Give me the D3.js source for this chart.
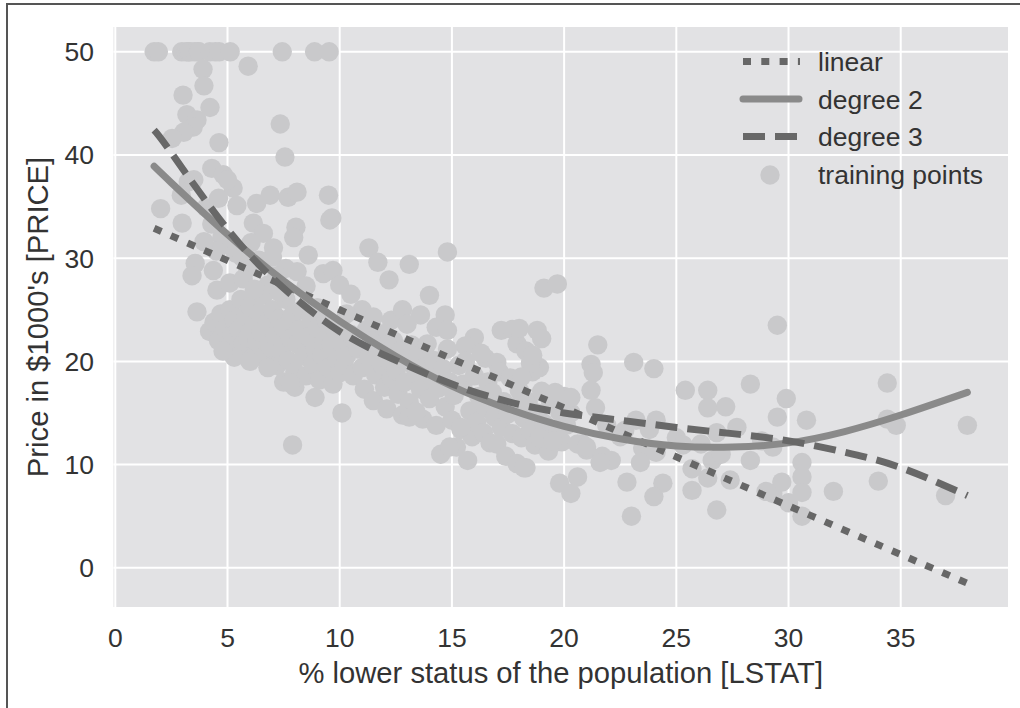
<!DOCTYPE html>
<html>
<head>
<meta charset="utf-8">
<style>
    body { margin: 0; background: #fff; }
    svg { display: block; }
    text { font-family: "Liberation Sans", Arial, sans-serif; fill: #333; }
    .tick-label { font-size: 26.5px; }
    .axis-title { font-size: 29.2px; }
    .legend-label { font-size: 26.5px; }
    .grid line { stroke: #fff; stroke-width: 2; }
    .points { fill: #c9c9cb; }
    .fit { fill: none; }
</style>
</head>
<body>
<svg id="chart"></svg>
<script src="https://d3js.org/d3.v7.min.js"></script>
<script>
    // training points: [LSTAT, PRICE]
    var trainingPoints = [
        [1.73, 50], [1.92, 50], [2.96, 50], [3.16, 50], [3.26, 50], [3.32, 50], [3.53, 50], [3.70, 50],
        [3.73, 50], [4.21, 50], [4.45, 50], [4.63, 50], [5.12, 50], [7.44, 50], [8.88, 50], [9.53, 50],
        [5.92, 48.6], [3.91, 48.3], [3.95, 46.7], [3.02, 45.8], [4.22, 44.6], [3.19, 43.9], [3.64, 43.4],
        [3.47, 42.7], [3.05, 42.2], [2.53, 41.6], [4.62, 41.2], [7.35, 43.0], [7.56, 39.8], [4.30, 38.7],
        [4.81, 38.1],
        [5.25, 36.8], [5.42, 35.1], [3.25, 37.4], [2.94, 36.1], [2.02, 34.8], [3.50, 37.6], [2.98, 33.4],
        [6.30, 35.3], [6.90, 36.1], [7.70, 35.9], [8.10, 36.4], [9.50, 36.1], [9.65, 33.9], [8.05, 33.0],
        [7.95, 32.0], [6.15, 33.4], [6.60, 32.4], [9.56, 33.7], [4.05, 34.9], [4.60, 35.8], [5.00, 37.6],
        [8.60, 30.3], [9.27, 28.5], [9.70, 28.8], [10.0, 27.4], [3.56, 29.5], [3.42, 28.3], [3.64, 24.8],
        [4.37, 28.8], [4.53, 26.9], [5.10, 27.6], [4.30, 33.3], [4.75, 32.0], [5.05, 31.3], [5.35, 30.5],
        [5.65, 30.1], [4.50, 30.7], [3.95, 31.6], [5.90, 29.0], [6.40, 29.8], [7.00, 30.1], [7.60, 29.0],
        [7.20, 28.3], [6.80, 27.4], [5.70, 28.0], [8.10, 28.7], [8.50, 27.3], [6.05, 31.5], [7.05, 31.0],
        [11.3, 31.0], [11.7, 29.6], [12.2, 27.9], [13.1, 29.4], [14.8, 30.6], [14.0, 26.4], [13.6, 24.5],
        [14.7, 24.5], [14.3, 23.3], [14.8, 23.0], [10.5, 26.5], [11.0, 25.0], [11.5, 24.3], [12.3, 24.0],
        [12.8, 25.0], [10.3, 24.6], [11.2, 23.1], [12.0, 22.7], [13.0, 23.6],
        [19.1, 27.1], [19.7, 27.5], [16.0, 22.3], [17.2, 23.0], [17.7, 23.1], [18.8, 23.0], [17.9, 21.7],
        [18.9, 19.4], [16.5, 20.3], [15.6, 21.5], [17.0, 19.9],
        [4.2, 22.9], [4.4, 23.8], [4.6, 22.0], [4.7, 24.6], [4.9, 23.2], [5.0, 21.2], [5.1, 25.0], [5.2, 22.6],
        [5.3, 24.0], [5.4, 20.6], [5.5, 23.1], [5.6, 26.0], [5.7, 21.7], [5.8, 24.4], [5.9, 22.3], [6.0, 25.3],
        [6.1, 20.3], [6.2, 23.6], [6.3, 21.9], [6.4, 24.7], [6.5, 22.8], [6.6, 26.4], [6.7, 20.6], [6.8, 23.9],
        [6.9, 21.4], [7.0, 25.0], [7.1, 22.5], [7.2, 19.6], [7.3, 24.1], [7.4, 21.0], [7.5, 23.3], [7.6, 26.0],
        [7.7, 20.1], [7.8, 22.2], [7.9, 24.5], [8.0, 19.0], [8.1, 21.7], [8.2, 23.1], [8.3, 25.0], [8.4, 20.5],
        [8.5, 18.6], [8.6, 22.4], [8.7, 24.3], [8.8, 19.7], [8.9, 21.2], [9.0, 23.2], [9.1, 18.2], [9.2, 20.6],
        [9.3, 22.0], [9.4, 24.0], [9.5, 19.4], [9.6, 21.6], [9.7, 17.8], [9.8, 23.0], [9.9, 20.1], [10.0, 18.9],
        [10.1, 21.7], [10.2, 19.6], [5.3, 20.4], [6.0, 20.0], [6.8, 19.4], [7.5, 18.0], [8.0, 17.5], [4.8, 21.0],
        [9.0, 25.2], [6.2, 27.0], [7.3, 26.7],
        [8.9, 16.5], [10.1, 15.0], [7.9, 11.9], [7.8, 17.9],
        [10.3, 20.5], [10.5, 22.6], [10.6, 18.6], [10.8, 21.2], [11.0, 19.4], [11.1, 17.3], [11.3, 20.4],
        [11.4, 22.0], [11.5, 16.2], [11.6, 18.7], [11.8, 21.1], [11.9, 19.6], [12.0, 17.5], [12.1, 15.4],
        [12.2, 20.0], [12.3, 18.4], [12.4, 22.0], [12.5, 19.1], [12.6, 16.8], [12.7, 21.0], [12.8, 14.8],
        [12.9, 18.0], [13.0, 19.9], [13.1, 16.0], [13.2, 21.6], [13.3, 15.0], [13.4, 18.8], [13.5, 20.6],
        [13.6, 17.3], [13.7, 14.4], [13.8, 19.5], [13.9, 21.7], [14.0, 16.4], [14.1, 18.5], [14.2, 20.1],
        [14.3, 13.8], [14.4, 17.4], [14.5, 11.0], [14.6, 19.3], [14.7, 15.6], [14.8, 21.2], [14.9, 18.0],
        [15.0, 14.3], [15.1, 16.7], [15.2, 11.7], [15.3, 19.6], [15.4, 13.4], [15.5, 17.8], [15.6, 20.0],
        [15.7, 10.4], [15.8, 15.2], [15.9, 12.7], [16.0, 18.6], [16.1, 14.1], [16.2, 16.6], [16.3, 20.8],
        [16.4, 13.1], [16.5, 15.5], [16.6, 18.0], [16.7, 12.1], [16.8, 17.0], [16.9, 14.6], [17.0, 12.0],
        [17.1, 19.0], [17.2, 13.6], [17.3, 16.1], [17.4, 10.8], [17.5, 14.9], [17.6, 18.4], [17.7, 13.0],
        [17.8, 15.6], [17.9, 10.1], [18.0, 17.2], [18.1, 12.6], [18.2, 14.5], [18.3, 9.7], [18.4, 16.1],
        [18.5, 13.3], [18.6, 19.0], [18.7, 11.9], [18.8, 15.0], [18.9, 12.8], [19.0, 17.1], [19.1, 14.0],
        [19.3, 11.3], [19.4, 16.0], [19.6, 13.2], [19.8, 15.1], [19.9, 12.2], [20.0, 16.6], [20.1, 13.8],
        [18.3, 21.0], [18.5, 19.8], [18.1, 18.5], [18.6, 20.6], [13.1, 14.6], [13.4, 15.1], [14.9, 11.7],
        [15.4, 13.6],
        [21.5, 21.6], [21.2, 19.7], [21.3, 18.9], [21.2, 17.2], [21.4, 15.5], [23.1, 19.9], [24.0, 19.3],
        [25.4, 17.2], [26.4, 17.2], [26.4, 15.5], [27.2, 15.6], [28.3, 17.8], [27.7, 13.6], [26.8, 13.1],
        [28.3, 10.4], [26.6, 10.4], [26.4, 8.7], [27.4, 8.5], [25.7, 7.5], [26.8, 5.6], [29.3, 7.2],
        [25.7, 9.6], [24.1, 11.2], [24.4, 8.2], [24.0, 6.9], [23.0, 5.0], [22.8, 8.3], [20.6, 8.8],
        [19.8, 8.2], [20.3, 7.2], [18.2, 9.7], [23.5, 11.6], [24.0, 11.3], [21.0, 11.4], [21.7, 10.8],
        [22.1, 10.4], [23.2, 14.3], [24.1, 14.3], [25.0, 12.6], [20.3, 15.0], [19.6, 17.0], [20.3, 16.5],
        [18.0, 23.2], [19.0, 22.2], [19.7, 13.0], [20.8, 12.0], [22.5, 12.7], [23.8, 13.4], [25.3, 11.9],
        [21.9, 13.8], [22.7, 13.3], [23.4, 10.2], [26.1, 12.0], [27.0, 11.0], [28.8, 12.3], [18.9, 12.6],
        [19.5, 12.3], [20.6, 12.0], [21.0, 11.7], [21.6, 10.2],
        [29.5, 23.5], [34.4, 17.9], [34.4, 14.4], [34.8, 13.8], [37.97, 13.8], [29.9, 16.4], [29.5, 14.6],
        [30.8, 14.3], [29.3, 11.7], [30.6, 10.2], [30.6, 8.8], [30.6, 7.3], [29.7, 8.3], [29.0, 7.4],
        [30.0, 6.3], [30.6, 5.0], [32.0, 7.4], [34.0, 8.4], [37.0, 7.0]
    ];

    // fitted curves, values
    var linearX = [1.73, 10, 20, 30, 37.97];
    var linearY = [32.9, 25.0, 15.5, 6.0, -1.5];

    var curveX = [1.73, 2.5, 5, 7.5, 10, 12.5, 15, 17.5, 20, 22.5, 25, 27.5, 30, 32.5, 35, 37.97];
    var quadY = [38.9, 37.3, 32.3, 27.8, 23.9, 20.5, 17.6, 15.4, 13.7, 12.5, 11.8, 11.7, 12.1, 13.2, 14.8, 17.0];
    var cubicY = [42.4, 40.2, 32.8, 27.1, 22.9, 20.1, 17.8, 16.1, 15.0, 14.3, 13.6, 13.0, 12.3, 11.2, 9.7, 7.0];

    var xTicks = [0, 5, 10, 15, 20, 25, 30, 35];
    var yTicks = [0, 10, 20, 30, 40, 50];

    var legendLabels = ['linear', 'degree 2', 'degree 3', 'training points'];

    var width = 1020;
    var height = 708;
    var plot = { left: 113.5, right: 1008, top: 27, bottom: 607 };

    var svg = d3.select('#chart')
        .attr('width', width)
        .attr('height', height);

    // figure border (only top and left edges show in the crop)
    svg.append('line').attr('x1', 6).attr('y1', 4).attr('x2', width).attr('y2', 4)
        .attr('stroke', '#555').attr('stroke-width', 2);
    svg.append('line').attr('x1', 7).attr('y1', 4).attr('x2', 7).attr('y2', height)
        .attr('stroke', '#555').attr('stroke-width', 2);

    var x = d3.scaleLinear().domain([-0.08, 39.78]).range([plot.left, plot.right]);
    var y = d3.scaleLinear().domain([-3.8, 52.4]).range([plot.bottom, plot.top]);

    svg.append('rect')
        .attr('x', plot.left)
        .attr('y', plot.top)
        .attr('width', plot.right - plot.left)
        .attr('height', plot.bottom - plot.top)
        .attr('fill', '#e2e2e4');

    var grid = svg.append('g').attr('class', 'grid');
    grid.selectAll('.vx').data(xTicks).join('line')
        .attr('x1', function (d) { return x(d); })
        .attr('x2', function (d) { return x(d); })
        .attr('y1', plot.top)
        .attr('y2', plot.bottom);
    grid.selectAll('.hy').data(yTicks).join('line')
        .attr('class', 'hy')
        .attr('x1', plot.left)
        .attr('x2', plot.right)
        .attr('y1', function (d) { return y(d); })
        .attr('y2', function (d) { return y(d); });

    // tick labels
    svg.append('g').selectAll('text').data(xTicks).join('text')
        .attr('class', 'tick-label')
        .attr('x', function (d) { return x(d); })
        .attr('y', 647)
        .attr('text-anchor', 'middle')
        .text(function (d) { return d; });
    svg.append('g').selectAll('text').data(yTicks).join('text')
        .attr('class', 'tick-label')
        .attr('x', 94)
        .attr('y', function (d) { return y(d) + 9.5; })
        .attr('text-anchor', 'end')
        .text(function (d) { return d; });

    // axis titles
    svg.append('text')
        .attr('class', 'axis-title')
        .attr('x', (plot.left + plot.right) / 2)
        .attr('y', 683)
        .attr('text-anchor', 'middle')
        .text('% lower status of the population [LSTAT]');
    svg.append('text')
        .attr('class', 'axis-title')
        .attr('transform', 'translate(48,' + (plot.top + plot.bottom) / 2 + ') rotate(-90)')
        .attr('text-anchor', 'middle')
        .text("Price in $1000's [PRICE]");

    // scatter
    svg.append('clipPath').attr('id', 'plot-clip')
        .append('rect')
        .attr('x', plot.left).attr('y', plot.top)
        .attr('width', plot.right - plot.left).attr('height', plot.bottom - plot.top);

    var body = svg.append('g').attr('clip-path', 'url(#plot-clip)');

    body.append('g').selectAll('circle').data(trainingPoints).join('circle')
        .attr('class', 'points')
        .attr('cx', function (d) { return x(d[0]); })
        .attr('cy', function (d) { return y(d[1]); })
        .attr('r', 9.7);

    var line = d3.line()
        .x(function (d) { return x(d[0]); })
        .y(function (d) { return y(d[1]); })
        .curve(d3.curveNatural);

    var styles = [
        { color: '#676767', width: 7, dash: '8,10.3', cap: 'butt' },
        { color: '#8a8a8a', width: 7, dash: null, cap: 'round' },
        { color: '#686868', width: 7, dash: '22,10', cap: 'butt' }
    ];

    var fits = [
        d3.zip(linearX, linearY),
        d3.zip(curveX, quadY),
        d3.zip(curveX, cubicY)
    ];

    fits.forEach(function (pts, i) {
        body.append('path')
            .datum(pts)
            .attr('class', 'fit')
            .attr('d', line)
            .attr('stroke', styles[i].color)
            .attr('stroke-width', styles[i].width)
            .attr('stroke-dasharray', styles[i].dash)
            .attr('stroke-linecap', styles[i].cap);
    });

    // legend
    var legend = svg.append('g');
    legendLabels.forEach(function (label, i) {
        var rowY = 61.5 + i * 37.5;
        if (i < 3) {
            legend.append('line')
                .attr('x1', 743).attr('x2', i === 1 ? 799 : 800)
                .attr('y1', rowY).attr('y2', rowY)
                .attr('stroke', styles[i].color)
                .attr('stroke-width', styles[i].width)
                .attr('stroke-dasharray', styles[i].dash)
                .attr('stroke-linecap', styles[i].cap);
        } else {
            legend.append('circle')
                .attr('class', 'points')
                .attr('cx', 770).attr('cy', rowY + 1)
                .attr('r', 9.7);
        }
        legend.append('text')
            .attr('class', 'legend-label')
            .attr('x', 818)
            .attr('y', rowY + 9.5)
            .text(label);
    });
</script>
</body>
</html>
